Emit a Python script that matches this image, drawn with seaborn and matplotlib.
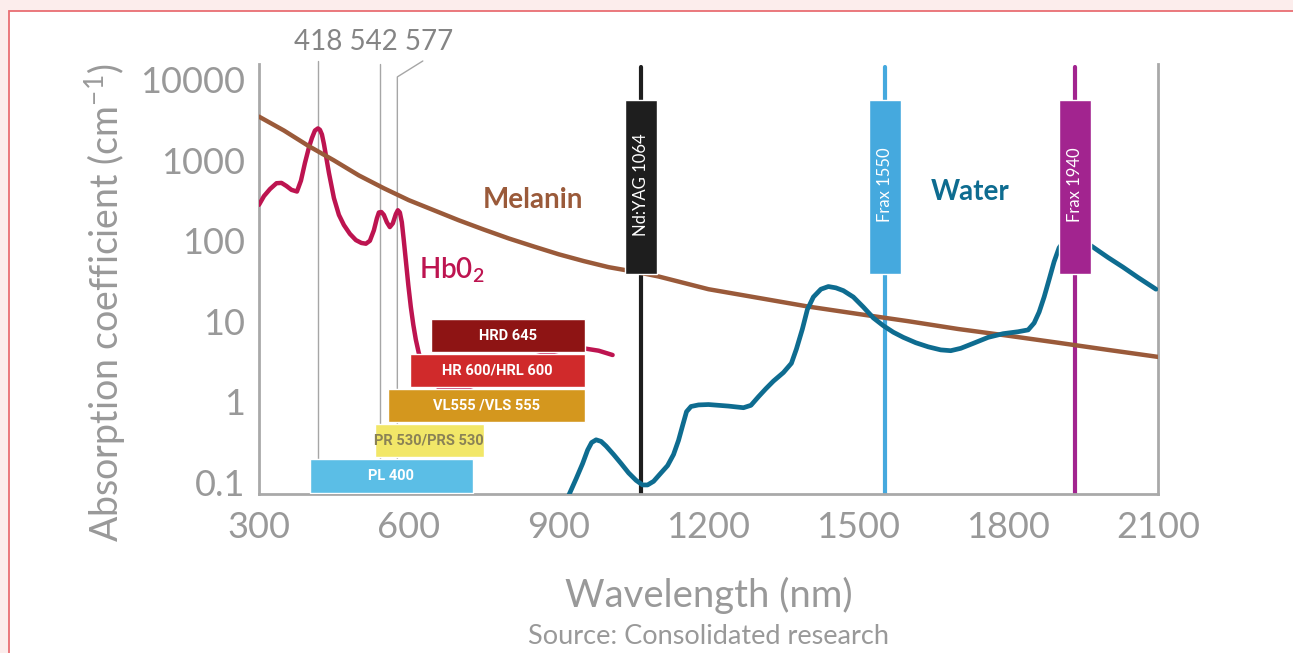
import numpy as np
import pandas as pd
import matplotlib.pyplot as plt
import matplotlib.transforms as mtransforms
from matplotlib.patches import Rectangle
import seaborn as sns

# Absorption curves (wavelength nm, coefficient cm^-1)
melanin_nm = [300, 350, 400, 450, 500, 550, 600, 650, 700, 750, 800, 850, 900, 950, 1000,
              1064, 1100, 1200, 1300, 1400, 1500, 1600, 1700, 1800, 1900, 2000, 2100]
melanin_abs = [3500, 2350, 1500, 1000, 650, 450, 320, 240, 180, 138, 107, 85, 68, 56, 47,
               40, 36, 25, 19.5, 15.2, 12.3, 10, 8.0, 6.6, 5.4, 4.4, 3.6]

hbo2_nm = [300, 310, 322, 335, 345, 355, 365, 376, 384, 392, 400, 406, 412, 418, 422, 426,
           430, 434, 440, 450, 460, 470, 482, 494, 505, 514, 522, 530, 536, 540, 545, 550,
           556, 562, 568, 574, 578, 582, 586, 590, 594, 599, 604, 609, 614, 620, 628, 640,
           660, 690, 720, 760, 800, 850, 900, 950, 980, 1008]
hbo2_abs = [280, 360, 440, 520, 525, 480, 430, 410, 560, 930, 1450, 1900, 2350, 2500, 2400, 2100,
            1600, 1150, 700, 340, 210, 157, 122, 102, 94, 92, 100, 135, 190, 225, 228, 210,
            170, 148, 165, 215, 240, 225, 170, 100, 57, 28, 15, 9, 5.9, 4.0, 2.8, 1.9,
            1.5, 1.4, 1.5, 1.9, 2.6, 3.6, 4.3, 4.6, 4.3, 3.8]

water_nm = [920, 935, 948, 958, 966, 975, 985, 995, 1010, 1025, 1040, 1055, 1068, 1078, 1090,
            1105, 1118, 1130, 1140, 1148, 1156, 1165, 1180, 1200, 1240, 1270, 1285, 1300, 1315,
            1330, 1350, 1366, 1376, 1388, 1398, 1410, 1425, 1440, 1455, 1470, 1490, 1510, 1530,
            1550, 1570, 1590, 1615, 1640, 1665, 1685, 1705, 1730, 1760, 1790, 1820, 1840, 1852,
            1862, 1872, 1882, 1892, 1902, 1915, 1930, 1950, 1968, 2000, 2030, 2060, 2096]
water_abs = [0.068, 0.11, 0.17, 0.25, 0.31, 0.335, 0.32, 0.28, 0.22, 0.17, 0.13, 0.105, 0.092,
             0.092, 0.102, 0.13, 0.16, 0.22, 0.33, 0.5, 0.75, 0.87, 0.91, 0.92, 0.88, 0.84, 0.9,
             1.15, 1.45, 1.8, 2.3, 3.0, 4.5, 8, 14, 20, 25, 27, 26, 24, 20, 15, 11,
             8.8, 7.3, 6.3, 5.4, 4.8, 4.4, 4.3, 4.6, 5.3, 6.3, 7.0, 7.4, 7.8, 9.5,
             13, 20, 33, 55, 82, 105, 112, 100, 85, 62, 47, 35, 25]

# Filter bands (horizontal bars)
filter_names = ["HRD 645", "HR 600/HRL 600", "VL555 /VLS 555", "PR 530/PRS 530", "PL 400"]
filter_start = [645, 602, 558, 532, 402]
filter_end = [952, 952, 952, 750, 728]
filter_low = [4.1, 1.52, 0.557, 0.205, 0.073]
filter_high = [10.6, 3.9, 1.44, 0.526, 0.193]
filter_colors = ["#8e1414", "#d02a2b", "#d4971e", "#f2e768", "#5bbee6"]
filter_text = ["white", "white", "white", "#8a8256", "white"]

# Laser lines
laser_names = ["Nd:YAG 1064", "Frax 1550", "Frax 1940"]
laser_nm = [1064, 1553, 1934]
laser_colors = ["#1e1e1e", "#45a9de", "#a2248f"]
laser_box_low = 38.6
laser_box_high = 5640

peak_nm = [418, 542, 577]

xticks = [300, 600, 900, 1200, 1500, 1800, 2100]
yticks = [0.1, 1, 10, 100, 1000, 10000]
ytick_labels = ["0.1", "1", "10", "100", "1000", "10000"]

sns.set_style("white")
plt.rcParams['font.family'] = ['Lato', 'DejaVu Sans']
plt.rcParams['mathtext.default'] = 'regular'

gray = "#999999"
W, H = 1293, 653
fig = plt.figure(figsize=(W / 100, H / 100), dpi=100, facecolor="#fcedec")
fig.patches.append(Rectangle((9 / W, -0.1), 1.2, 1 - 11 / H + 0.1, transform=fig.transFigure,
                             facecolor="white", edgecolor="#e96e73", lw=1.3, zorder=-5))

ax = fig.add_axes([259 / W, 1 - 494 / H, (1158 - 259) / W, (494 - 64) / H])
ax.set_facecolor("none")
ax.set_yscale("log")
ax.set_xlim(300, 2100)
ax.set_ylim(0.071, 15800)

trans = mtransforms.blended_transform_factory(ax.transData, ax.transAxes)

# gray peak markers
ax.plot([418, 418], [0, 1.007], transform=trans, color="#a6a6a6", lw=1, clip_on=False, zorder=1)
ax.plot([542, 542], [0, 1.0], transform=trans, color="#a6a6a6", lw=1, clip_on=False, zorder=1)
ax.plot([577, 577, 628], [0, 0.970, 1.007], transform=trans, color="#a6a6a6", lw=1,
        clip_on=False, zorder=1)
ax.text(530, 1.052, " ".join(str(p) for p in peak_nm), transform=trans, ha="center", va="center",
        fontsize=20, color="#858585")

# laser lines and boxes
for name, nm, col in zip(laser_names, laser_nm, laser_colors):
    ax.plot([nm, nm], [0, 0.993], transform=trans, color=col, lw=3, zorder=2)
    ax.bar(nm, laser_box_high - laser_box_low, bottom=laser_box_low, width=64, color=col, zorder=5)
    ax.text(nm, 500, name, rotation=90, ha="center", va="center", color="white",
            fontsize=12, zorder=6)

# curves
hb = pd.DataFrame({"nm": hbo2_nm, "abs": hbo2_abs})
mel = pd.DataFrame({"nm": melanin_nm, "abs": melanin_abs})
wat = pd.DataFrame({"nm": water_nm, "abs": water_abs})
sns.lineplot(data=hb, x="nm", y="abs", ax=ax, color="#bd1450", lw=3.2, zorder=3)
sns.lineplot(data=mel, x="nm", y="abs", ax=ax, color="#9a5a3a", lw=3.2, zorder=4)
sns.lineplot(data=wat, x="nm", y="abs", ax=ax, color="#0e6c90", lw=3.4, zorder=4)

# filter bars
for name, s, e, lo, hi, col, tc in zip(filter_names, filter_start, filter_end, filter_low,
                                        filter_high, filter_colors, filter_text):
    ax.barh(lo, e - s, height=hi - lo, left=s, align="edge", color=col, zorder=5)
    ax.text((s + e) / 2, np.sqrt(lo * hi), name, ha="center", va="center", color=tc,
            fontsize=10.5, family=["Roboto", "DejaVu Sans"], weight="bold", zorder=6)

ax.text(848, 320, "Melanin", color="#9a5a3a", fontsize=20, weight="bold", ha="center", va="center")
ax.text(1724, 405, "Water", color="#0e6c90", fontsize=20, weight="bold", ha="center", va="center")
ax.text(620, 43, "Hb0$_2$", color="#bd1450", fontsize=20, weight="semibold", ha="left", va="center")

ax.set_xticks(xticks)
ax.set_xticklabels([str(t) for t in xticks])
ax.set_yticks(yticks)
ax.set_yticklabels(ytick_labels)
ax.minorticks_off()
ax.tick_params(axis="both", length=0, labelsize=26, labelcolor=gray)
ax.tick_params(axis="x", pad=12)
ax.tick_params(axis="y", pad=10)

for side in ["left", "bottom", "right"]:
    ax.spines[side].set_color("#a9a9a9")
    ax.spines[side].set_linewidth(2)
ax.spines["top"].set_visible(False)

ax.set_xlabel("")
ax.set_ylabel("")
fig.text(105 / W, 1 - 303 / H, "Absorption coefficient (cm$^{-1}$)", rotation=90, ha="center",
         va="center", fontsize=27, color=gray)
fig.text(709 / W, 1 - 595 / H, "Wavelength (nm)", ha="center", va="center", fontsize=27.5,
         color=gray)
fig.text(709 / W, 1 - 637 / H, "Source: Consolidated research", ha="center", va="center",
         fontsize=19.5, color=gray)

fig.savefig("out.png", dpi=100, facecolor=fig.get_facecolor())
